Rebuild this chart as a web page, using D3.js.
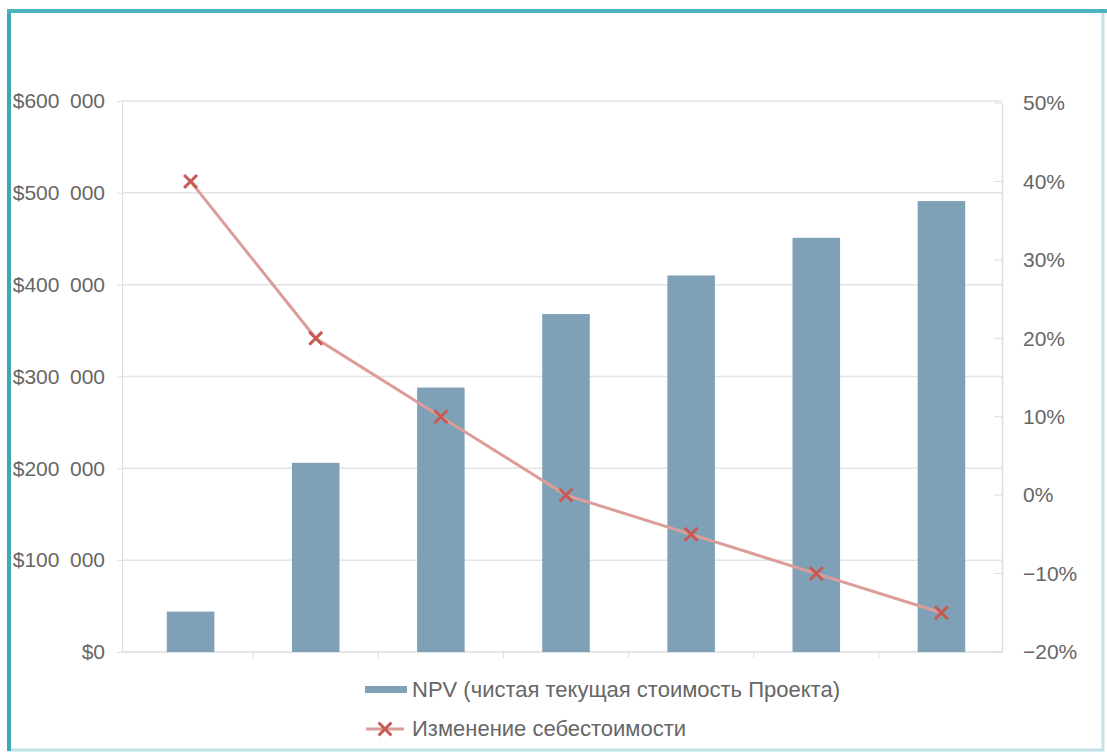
<!DOCTYPE html>
<html>
<head>
<meta charset="utf-8">
<script src="https://cdn.jsdelivr.net/npm/d3@7"></script>
<style>
body { margin: 0; background: #fff; }
text { font-family: "Liberation Sans", Arial, sans-serif; fill: #555; }
</style>
</head>
<body>
<script>
var w = 1107;
var h = 754;

var categories = ["1", "2", "3", "4", "5", "6", "7"];
var npv = [44000, 206000, 288000, 368000, 410000, 451000, 491000];
var costChange = [0.40, 0.20, 0.10, 0.00, -0.05, -0.10, -0.15];
var leftTicks = [0, 100000, 200000, 300000, 400000, 500000, 600000];
var rightTicks = [-0.2, -0.1, 0, 0.1, 0.2, 0.3, 0.4, 0.5];
var legendNames = ["NPV (чистая текущая стоимость Проекта)", "Изменение себестоимости"];

var mLeft = 122, mRight = 1002, mTop = 101, mBottom = 652;

var svg = d3.select("body").append("svg")
    .attr("width", w)
    .attr("height", h);

// frame
svg.append("rect").attr("x", 9).attr("y", 11).attr("width", 1094).attr("height", 739)
    .attr("fill", "none").attr("stroke", "#bfe3e6").attr("stroke-width", 3);
svg.append("line").attr("x1", 9).attr("x2", 9).attr("y1", 9).attr("y2", 751)
    .attr("stroke", "#3aa9b5").attr("stroke-width", 4);
svg.append("line").attr("x1", 7).attr("x2", w).attr("y1", 11).attr("y2", 11)
    .attr("stroke", "#4fb3bd").attr("stroke-width", 4);

var xb = d3.scaleBand().domain(categories).range([mLeft + 6, mRight + 2]);
var x = d3.scaleBand().domain(categories).range([mLeft + 6, mRight + 2]).paddingInner(0.62).paddingOuter(0.31);
var yL = d3.scaleLinear().domain([0, 600000]).range([mBottom, mTop]);
var yR = d3.scaleLinear().domain([-0.2, 0.5]).range([mBottom, mTop + 2]);

// grid
svg.append("g").selectAll("line").data(leftTicks.slice(1)).enter().append("line")
    .attr("x1", mLeft).attr("x2", mRight)
    .attr("y1", function(d) { return yL(d); })
    .attr("y2", function(d) { return yL(d); })
    .attr("stroke", "#e4e4e4").attr("stroke-width", 1.5);

// left axis
var fmt = function(d) { return "$" + d3.format(",")(d).replace(/,/g, "\u2002"); };
var axL = svg.append("g").attr("transform", "translate(" + mLeft + ",0)")
    .call(d3.axisLeft(yL).tickValues(leftTicks).tickFormat(fmt).tickSize(5).tickPadding(12));
axL.select(".domain").attr("stroke", "#ddd");
axL.selectAll(".tick line").attr("stroke", "#ddd");
axL.selectAll("text").style("font-size", "21px").style("fill", "#666");

// right axis
var axR = svg.append("g").attr("transform", "translate(" + mRight + ",0)")
    .call(d3.axisRight(yR).tickValues(rightTicks).tickFormat(d3.format(".0%")).tickSize(0).tickPadding(21));
axR.select(".domain").attr("stroke", "#ddd").attr("stroke-width", 1.5);
axR.selectAll("text").style("font-size", "21px").style("fill", "#666");
svg.append("g").selectAll("line").data(rightTicks).enter().append("line")
    .attr("x1", mRight - 8).attr("x2", mRight)
    .attr("y1", function(d) { return yR(d); })
    .attr("y2", function(d) { return yR(d); })
    .attr("stroke", "#ddd");

// bottom axis
svg.append("line").attr("x1", mLeft).attr("x2", mRight).attr("y1", mBottom).attr("y2", mBottom)
    .attr("stroke", "#ddd").attr("stroke-width", 1.5);
svg.append("g").selectAll("line").data(categories.slice(1)).enter().append("line")
    .attr("x1", function(d) { return xb(d); })
    .attr("x2", function(d) { return xb(d); })
    .attr("y1", mBottom).attr("y2", mBottom + 6)
    .attr("stroke", "#ddd");

// bars
svg.append("g").selectAll("rect").data(npv).enter().append("rect")
    .attr("x", function(d, i) { return x(categories[i]); })
    .attr("y", function(d) { return yL(d); })
    .attr("width", x.bandwidth())
    .attr("height", function(d) { return mBottom - yL(d); })
    .attr("fill", "#7fa1b8");

// line
var cx = function(i) { return xb(categories[i]) + xb.bandwidth() / 2; };
var line = d3.line().x(function(d, i) { return cx(i); }).y(function(d) { return yR(d); });
svg.append("path").datum(costChange).attr("d", line)
    .attr("fill", "none").attr("stroke", "#dc9d98").attr("stroke-width", 3);

var marker = d3.symbol().type(d3.symbolX).size(110);
svg.append("g").selectAll("path").data(costChange).enter().append("path")
    .attr("d", marker)
    .attr("transform", function(d, i) { return "translate(" + cx(i) + "," + yR(d) + ")"; })
    .attr("fill", "none").attr("stroke", "#c85a55").attr("stroke-width", 3);

// legend
var lg = svg.append("g");
lg.append("rect").attr("x", 365).attr("y", 686).attr("width", 42).attr("height", 7).attr("fill", "#7fa1b8");
lg.append("text").attr("x", 412).attr("y", 697).text(legendNames[0]).style("font-size", "22px").style("fill", "#666");
lg.append("line").attr("x1", 366).attr("x2", 404).attr("y1", 729).attr("y2", 729)
    .attr("stroke", "#dc9d98").attr("stroke-width", 3);
lg.append("path").attr("d", marker).attr("transform", "translate(385,729)")
    .attr("fill", "none").attr("stroke", "#c85a55").attr("stroke-width", 3);
lg.append("text").attr("x", 412).attr("y", 736).text(legendNames[1]).style("font-size", "22px").style("fill", "#666");
</script>
</body>
</html>
